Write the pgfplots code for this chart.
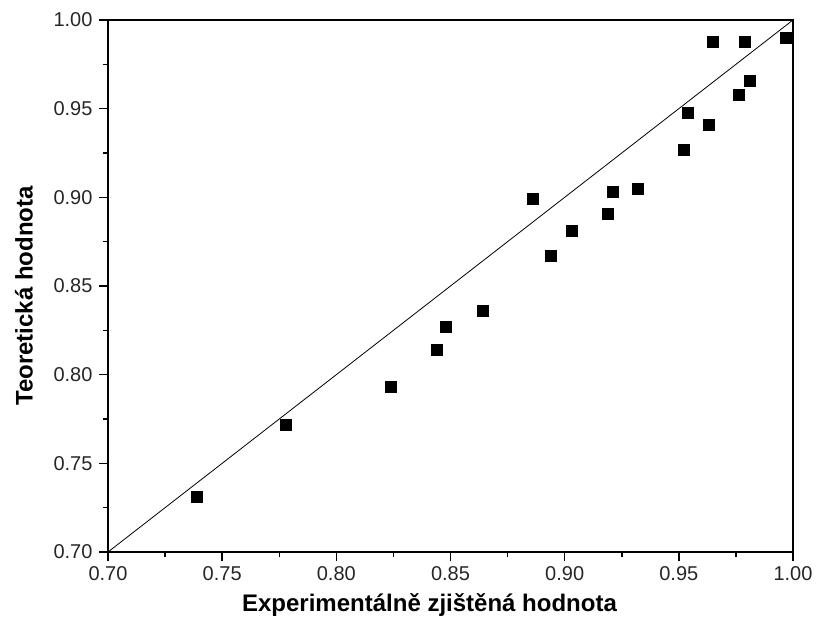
\documentclass[border=0pt]{standalone}
\usepackage{pgfplots}
\pgfplotsset{compat=1.18}
\usepackage{fontspec}
\setmainfont{Liberation Sans}
\begin{document}
\begin{tikzpicture}
\begin{axis}[
  scale only axis,
  width=685pt, height=532pt,
  xmin=0.7, xmax=1.0, ymin=0.7, ymax=1.0,
  xtick={0.70,0.75,0.80,0.85,0.90,0.95,1.00},
  ytick={0.70,0.75,0.80,0.85,0.90,0.95,1.00},
  minor tick num=1,
  tick pos=left,
  tick align=outside,
  major tick length=9pt,
  minor tick length=5pt,
  axis line style={line width=1.8pt},
  every tick/.style={line width=1.5pt, black},
  axis on top,
  /pgf/number format/assume math mode=true,
  /pgf/number format/.cd, fixed, fixed zerofill, precision=2, /pgfplots/.cd,
  tick label style={font=\fontsize{20}{20}\selectfont, text=black!85},
  xticklabel style={yshift=-2pt},
  yticklabel style={xshift=-3pt},
  xlabel={Experimentálně zjištěná hodnota},
  ylabel={Teoretická hodnota},
  label style={font=\fontsize{24}{24}\selectfont\bfseries},
  xlabel style={at={(axis description cs:0.5,0)}, anchor=center, yshift=-53pt, xshift=-21pt},
  ylabel style={at={(axis description cs:0,0.5)}, anchor=center, xshift=-10pt, yshift=84pt},
]
\addplot[black, line width=0.8pt] coordinates {(0.7,0.7) (1.0,1.0)};
\addplot[only marks, mark=square*, mark size=5.5pt, black] coordinates {
(0.739,0.731)
(0.778,0.772)
(0.824,0.793)
(0.844,0.814)
(0.848,0.827)
(0.864,0.836)
(0.886,0.899)
(0.894,0.867)
(0.903,0.881)
(0.919,0.891)
(0.921,0.903)
(0.932,0.905)
(0.952,0.927)
(0.954,0.948)
(0.963,0.941)
(0.965,0.988)
(0.976,0.958)
(0.979,0.988)
(0.981,0.966)
(0.997,0.990)
};
\end{axis}
\path[use as bounding box] ([xshift=-108pt,yshift=-77pt]current axis.south west) rectangle ([xshift=23pt,yshift=20pt]current axis.north east);
\end{tikzpicture}
\end{document}
